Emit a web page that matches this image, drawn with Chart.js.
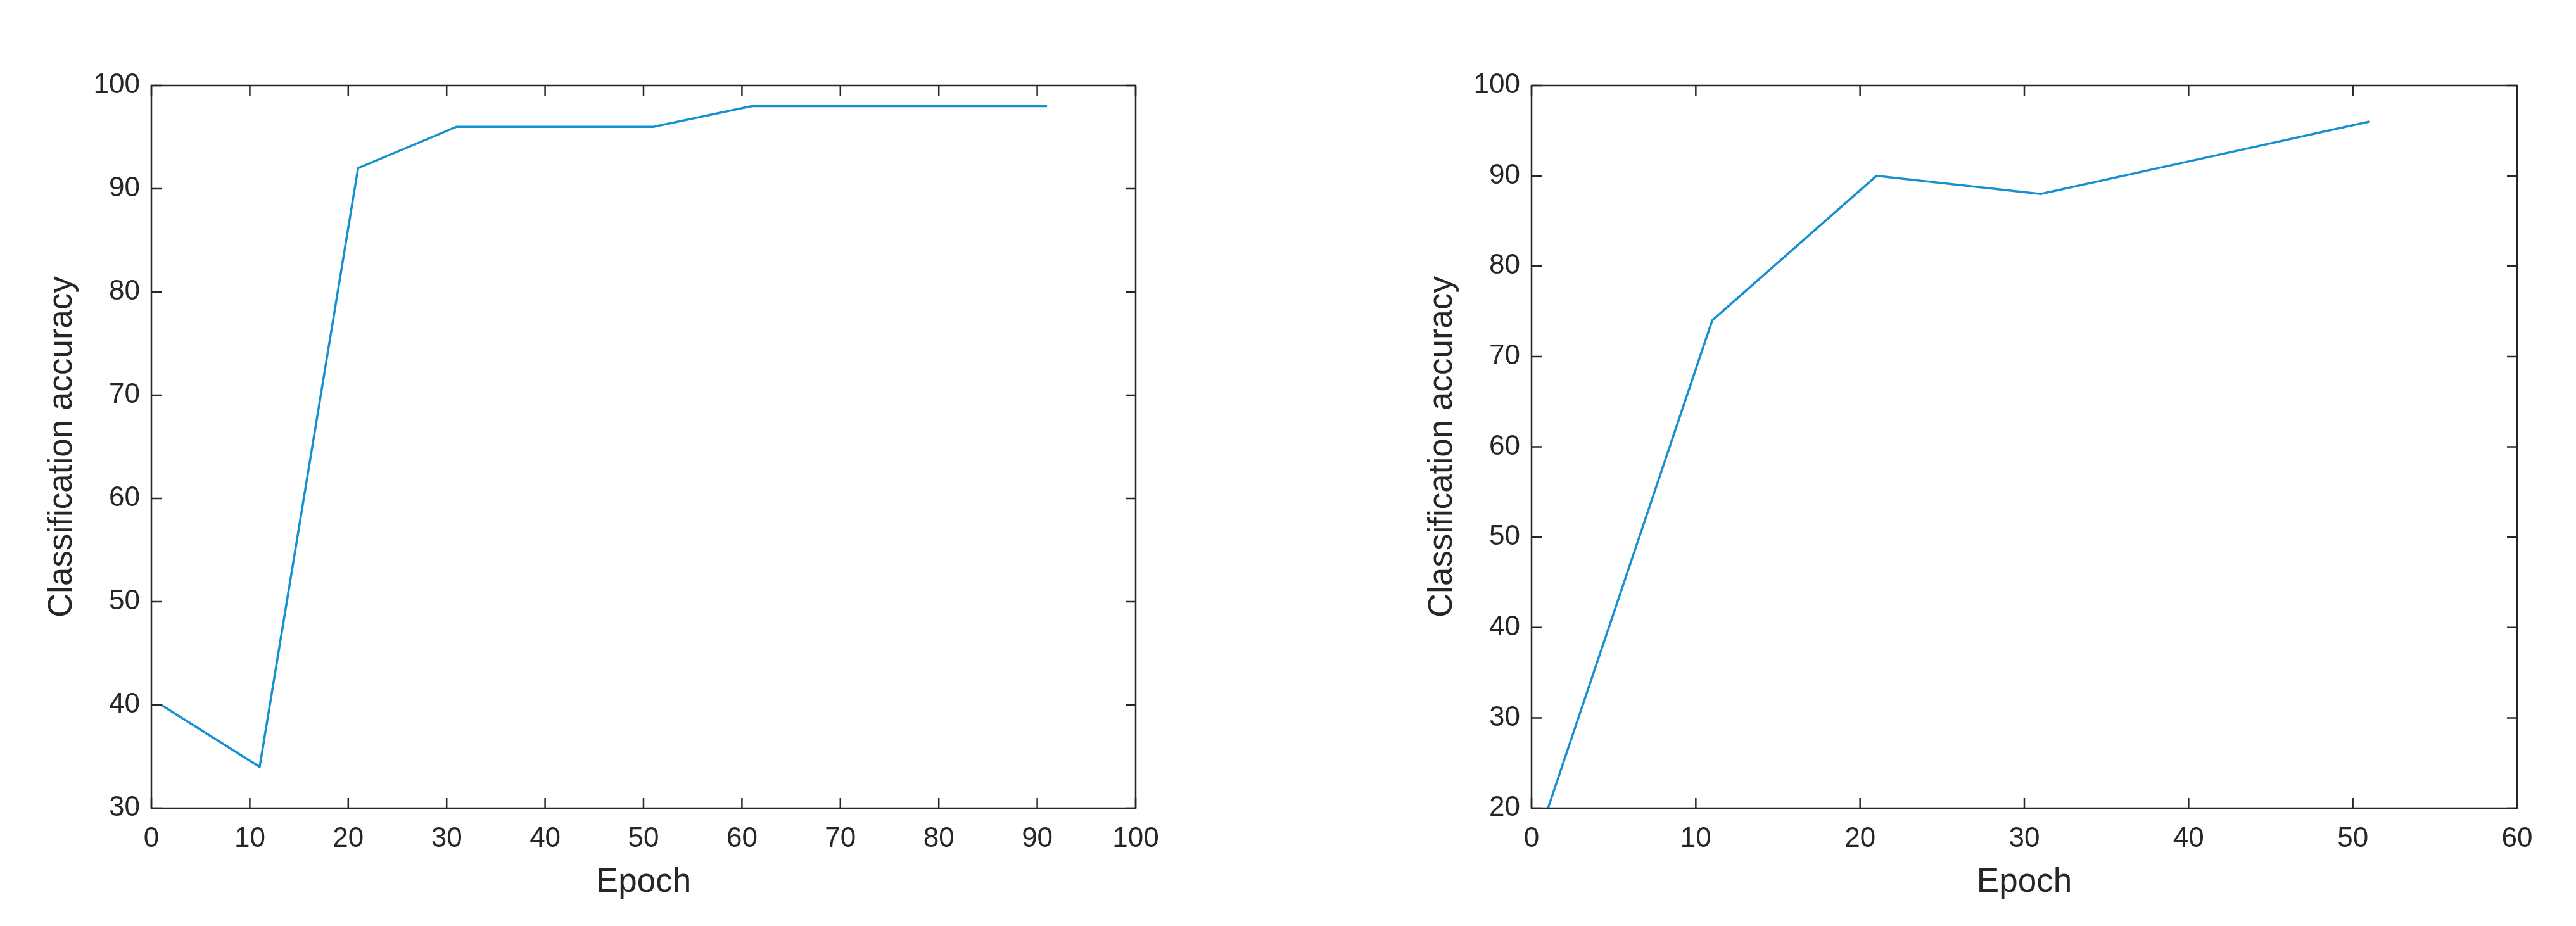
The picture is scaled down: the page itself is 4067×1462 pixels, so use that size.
<!DOCTYPE html>
<html><head><meta charset="utf-8">
<script src="https://cdn.jsdelivr.net/npm/chart.js@4/dist/chart.umd.min.js"></script>
<style>body{margin:0;background:#fff;width:4067px;height:1462px;position:relative;overflow:hidden}
.w{position:absolute;top:0;height:1462px}</style></head><body>
<div class="w" style="left:0;width:2033px"><canvas id="c1"></canvas></div>
<div class="w" style="left:2100px;width:1967px"><canvas id="c2"></canvas></div>
<script>
const epochs1 = [1, 11, 21, 31, 41, 51, 61, 71, 81, 91];
const acc1 = [40, 34, 92, 96, 96, 96, 98, 98, 98, 98];
const epochs2 = [1, 11, 21, 31, 41, 51];
const acc2 = [20, 74, 90, 88, 92, 96];
const xLabel = 'Epoch';
const yLabel = 'Classification accuracy';
const lineColor = '#1591d1';
const txt = '#262626';

const frame = {
  id: 'frame',
  afterDraw(c) {
    const {ctx, chartArea: a, scales} = c;
    ctx.save();
    ctx.strokeStyle = '#262626'; ctx.lineWidth = 2.5;
    ctx.strokeRect(a.left, a.top, a.right - a.left, a.bottom - a.top);
    const L = 16;
    scales.x.ticks.forEach(t => {
      const px = scales.x.getPixelForValue(t.value);
      ctx.beginPath(); ctx.moveTo(px, a.bottom); ctx.lineTo(px, a.bottom - L);
      ctx.moveTo(px, a.top); ctx.lineTo(px, a.top + L); ctx.stroke();
    });
    scales.y.ticks.forEach(t => {
      const py = scales.y.getPixelForValue(t.value);
      ctx.beginPath(); ctx.moveTo(a.left, py); ctx.lineTo(a.left + L, py);
      ctx.moveTo(a.right, py); ctx.lineTo(a.right - L, py); ctx.stroke();
    });
    ctx.restore();
  }
};

function make(id, xs, ys, xmax, ymin, yW, padR, yTitleOff) {
  return new Chart(document.getElementById(id), {
    type: 'line',
    data: { datasets: [{ data: xs.map((x, i) => ({x, y: ys[i]})), borderColor: lineColor, borderWidth: 3.5, pointRadius: 0, tension: 0 }] },
    options: {
      responsive: true, maintainAspectRatio: false, animation: false,
      layout: { padding: { top: 135, right: padR, left: 0, bottom: 0 } },
      plugins: { legend: { display: false }, tooltip: { enabled: false } },
      scales: {
        x: { type: 'linear', min: 0, max: xmax,
          ticks: { stepSize: 10, color: txt, font: { family: 'Liberation Sans', size: 44 }, padding: 22, maxRotation: 0 },
          grid: { display: false, drawTicks: false }, border: { display: false },
          title: { display: true, text: xLabel, color: txt, font: { family: 'Liberation Sans', size: 53 }, padding: { top: 0, bottom: 37 } },
          afterFit: s => { s.height = 186; } },
        y: { min: ymin, max: 100,
          ticks: { stepSize: 10, color: txt, font: { family: 'Liberation Sans', size: 44 }, padding: 18 },
          grid: { display: false, drawTicks: false }, border: { display: false },
          title: { display: true, text: yLabel, color: txt, font: { family: 'Liberation Sans', size: 53 }, padding: { top: yTitleOff, bottom: 0 } },
          afterFit: s => { s.width = yW; } }
      }
    },
    plugins: [frame]
  });
}
make('c1', epochs1, acc1, 100, 30, 239, 2033 - 1793, 67);
make('c2', epochs2, acc2, 60, 20, 318, 93, 146);
</script></body></html>
